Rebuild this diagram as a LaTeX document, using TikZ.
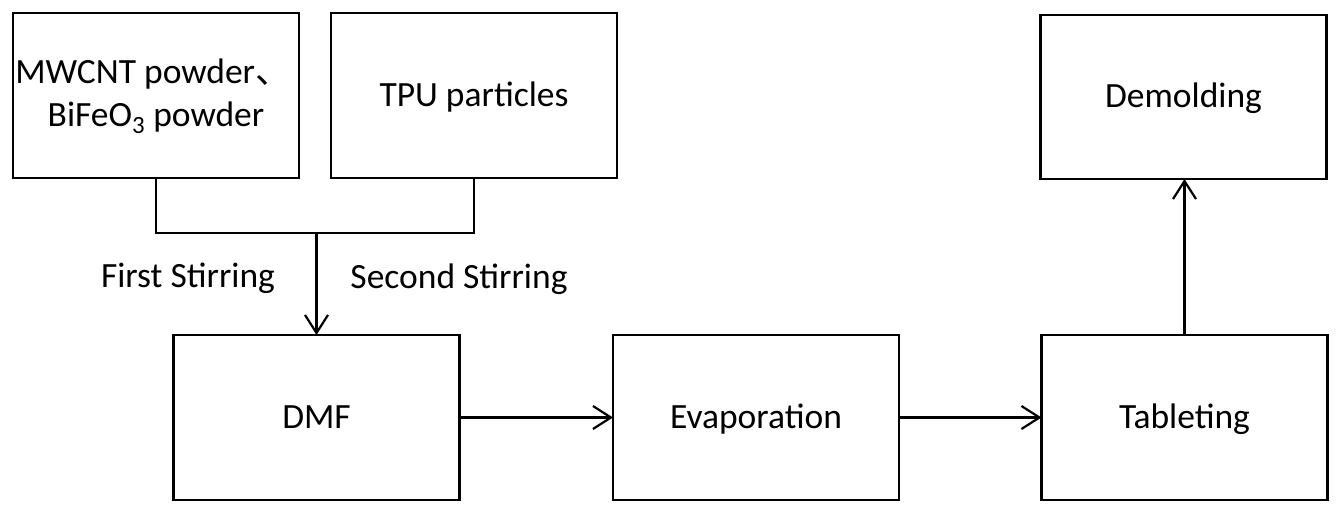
\documentclass[tikz,border=0pt]{standalone}
\usepackage{fontspec}
\setmainfont{Carlito}
\newfontfamily\cjk{Noto Sans CJK SC}
\usetikzlibrary{arrows.meta}
\begin{document}
\begin{tikzpicture}[x=1pt,y=-1pt,
  every node/.style={font=\fontsize{35.5}{42}\selectfont, inner sep=0pt, outer sep=0pt},
  procbox/.style={draw, line width=2.2pt, minimum width=286pt, minimum height=165pt, text height=21pt, text depth=0pt},
  lbl/.style={anchor=base},
  link/.style={line width=2.2pt},
  flow/.style={line width=2.2pt, -{Straight Barb[length=18pt,width=23pt,line width=2.2pt]}}]
\useasboundingbox (0,0) rectangle (1341,514);
\node[procbox] (raw) at (156,95.5) {};
\node[lbl] (rawA) at (153,83) {MWCNT powder{\cjk 、}};
\node[lbl] (rawB) at (156,126) {BiFeO\textsubscript{3} powder};
\node[procbox] (tpu) at (474,95.5) {TPU particles};
\node[procbox, minimum height=164pt] (demold) at (1183.5,97) {Demolding};
\node[procbox] (dmf) at (316.5,417.5) {DMF};
\node[procbox] (evap) at (756,417.5) {Evaporation};
\node[procbox] (tablet) at (1184.5,417.5) {Tableting};
\coordinate (j) at (316.5,233);
\draw[link] (raw.south) -- (raw.south |- j) -- (tpu.south |- j) -- (tpu.south);
\draw[flow] (dmf.north |- j) -- (dmf.north);
\node[lbl] (first) at (188,287) {First Stirring};
\node[lbl] (second) at (459,288) {Second Stirring};
\draw[flow] (dmf.east) -- (evap.west);
\draw[flow] (evap.east) -- (tablet.west);
\draw[flow] (tablet.north) -- (tablet.north |- demold.south);
\end{tikzpicture}
\end{document}
